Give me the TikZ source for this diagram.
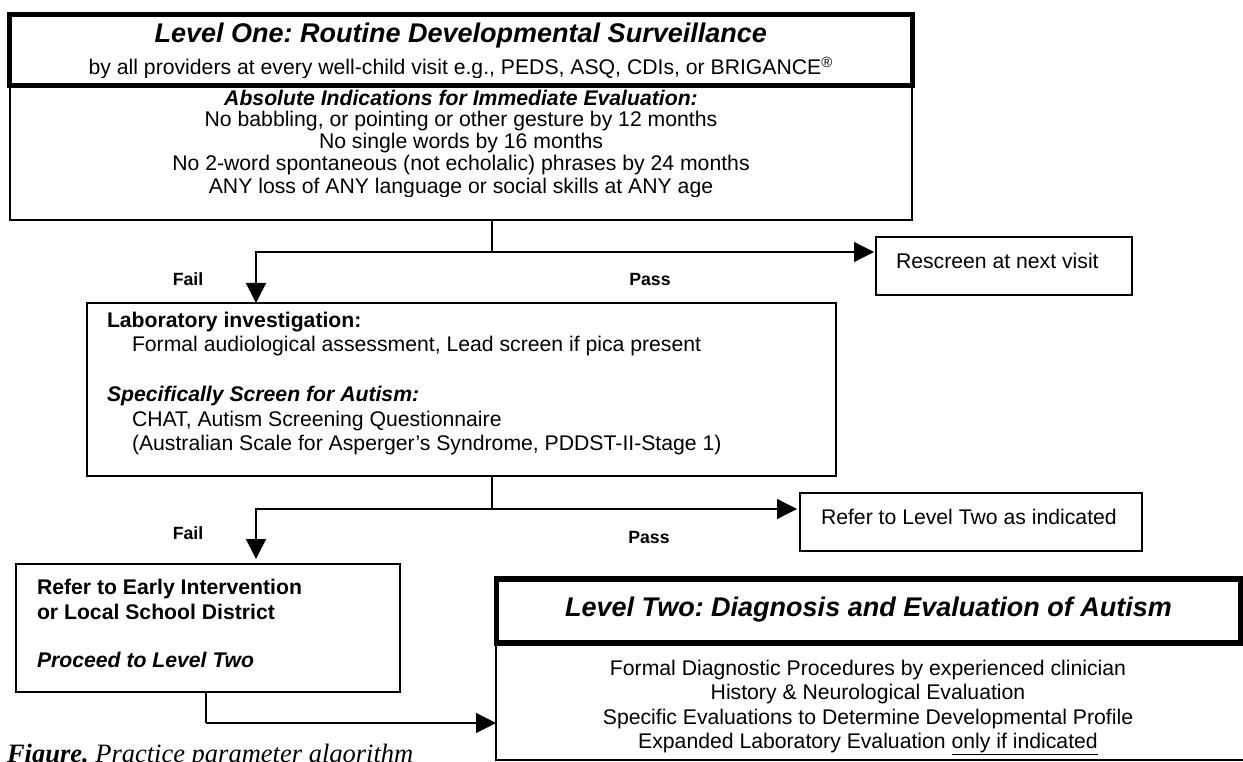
\documentclass[tikz,border=0pt]{standalone}
\usepackage{fontspec}
\setmainfont{Liberation Sans}
\newfontfamily\capfont{Liberation Serif}
\usetikzlibrary{arrows.meta}
\frenchspacing
\newcommand\fbody{\fontsize{21.2pt}{24.4pt}\selectfont}
\newcommand\ftitle{\fontsize{27pt}{31pt}\selectfont\bfseries\itshape}
\newcommand\flabel{\fontsize{17.7pt}{20pt}\selectfont\bfseries}
\begin{document}
\begin{tikzpicture}[x=1pt,y=-1pt,
  thinbox/.style={draw, line width=1.7pt, inner sep=0pt, outer sep=0pt, anchor=north west},
  thickbox/.style={draw, line width=5pt, inner sep=0pt, outer sep=0pt, anchor=north west},
  txt/.style={inner sep=0pt, outer sep=0pt, font=\fbody},
  conn/.style={line width=1.3pt},
  arr/.style={line width=1.3pt, -{Triangle[length=20pt,width=20pt]}},
  lbl/.style={inner sep=0pt, outer sep=0pt, anchor=base, font=\flabel}]
\useasboundingbox (0,0) rectangle (1243,762);

% ---------- Level One ----------
\node[thinbox, minimum width=902pt, minimum height=134.5pt] (l1low) at (10,85.5) {};
\node[thickbox, minimum width=902.5pt, minimum height=71pt] (l1head) at (9.5,14.5) {};
\node[txt, anchor=base, font=\ftitle] (t1) at (460.75,42.5) {Level One: Routine Developmental Surveillance};
\begin{scope}
  \clip (12,17) rectangle (908,77.5);
  \node[txt, anchor=base] (t1sub) at (460.75,74.6) {by all providers at every well-child visit e.g., PEDS, ASQ, CDIs, or BRIGANCE\textsuperscript{®}};
\end{scope}
\node[txt, anchor=base, font=\fbody\bfseries\itshape] (abs) at (461,105.6) {Absolute Indications for Immediate Evaluation:};
\node[txt, anchor=base] (i1) at (461,126.6) {No babbling, or pointing or other gesture by 12 months};
\node[txt, anchor=base] (i2) at (461,148.6) {No single words by 16 months};
\node[txt, anchor=base] (i3) at (461,170.6) {No 2-word spontaneous (not echolalic) phrases by 24 months};
\begin{scope}
  \clip (12,175) rectangle (908,196.8);
  \node[txt, anchor=base] (i4) at (461,193.6) {ANY loss of ANY language or social skills at ANY age};
\end{scope}

% ---------- Rescreen ----------
\node[thinbox, minimum width=256pt, minimum height=58pt] (resc) at (876,237) {};
\node[txt, anchor=base west] (resct) at (896,268.6) {Rescreen at next visit};

% ---------- Laboratory box ----------
\node[thinbox, minimum width=749pt, minimum height=173pt] (lab) at (87,303) {};
\node[txt, anchor=base west, font=\fbody\bfseries] (lab1) at (107,327.6) {Laboratory investigation:};
\node[txt, anchor=base west] (lab2) at (132,352) {Formal audiological assessment, Lead screen if pica present};
\node[txt, anchor=base west, font=\fbody\bfseries\itshape] (lab3) at (107,401.5) {Specifically Screen for Autism:};
\node[txt, anchor=base west] (lab4) at (132,426) {CHAT, Autism Screening Questionnaire};
\node[txt, anchor=base west] (lab5) at (132,450.5) {(Australian Scale for Asperger’s Syndrome, PDDST-II-Stage 1)};

% ---------- Refer to Level Two as indicated ----------
\node[thinbox, minimum width=342pt, minimum height=58pt] (refl2) at (800,493) {};
\node[txt, anchor=base west] (refl2t) at (821,524.6) {Refer to Level Two as indicated};

% ---------- Refer to Early Intervention ----------
\node[thinbox, minimum width=384pt, minimum height=128pt] (refei) at (16,564) {};
\node[txt, anchor=base west, font=\fbody\bfseries] (ei1) at (37,594.6) {Refer to Early Intervention};
\node[txt, anchor=base west, font=\fbody\bfseries] (ei2) at (37,619.6) {or Local School District};
\node[txt, anchor=base west, font=\fbody\bfseries\itshape] (ei3) at (37,667.6) {Proceed to Level Two};

% ---------- Level Two ----------
\node[thinbox, minimum width=750pt, minimum height=117pt] (l2low) at (496,643) {};
\node[thickbox, line width=5.5pt, minimum width=744pt, minimum height=64pt] (l2head) at (496.5,579) {};
\node[txt, anchor=base, font=\ftitle] (t2) at (868.5,616.5) {Level Two: Diagnosis and Evaluation of Autism};
\node[txt, anchor=base] (d1) at (868,675.6) {Formal Diagnostic Procedures by experienced clinician};
\node[txt, anchor=base] (d2) at (868,699.6) {History \& Neurological Evaluation};
\node[txt, anchor=base] (d3) at (868,724.6) {Specific Evaluations to Determine Developmental Profile};
\node[txt, anchor=base] (d4) at (868,748.6) {Expanded Laboratory Evaluation \underline{only if indicated}};

% ---------- connectors ----------
\coordinate (j1) at (492,252);
\coordinate (f1) at (256,252);
\draw[conn] (l1low.south -| j1) -- (j1);
\draw[arr] (j1) -- (f1) -- (f1 |- lab.north);
\draw[arr, shorten >=2pt] (j1) -- (j1 -| resc.west);

\coordinate (j2) at (492,509);
\coordinate (f2) at (256,509);
\draw[conn] (lab.south -| j2) -- (j2);
\draw[arr, shorten >=5pt] (j2) -- (f2) -- (f2 |- refei.north);
\draw[arr, shorten >=3pt] (j2) -- (j2 -| refl2.west);

\coordinate (j3) at (206,723);
\draw[conn] (refei.south -| j3) -- (j3);
\draw[arr] (j3) -- (j3 -| l2low.west);

% ---------- labels ----------
\node[lbl] (fail1) at (188,286) {Fail};
\node[lbl] (pass1) at (650,286) {Pass};
\node[lbl] (fail2) at (188,539) {Fail};
\node[lbl] (pass2) at (649,543) {Pass};

% ---------- caption ----------
\node[inner sep=0pt, outer sep=0pt, anchor=base west, font=\capfont\fontsize{26.5pt}{30pt}\selectfont] (cap) at (7,762) {\itshape{\bfseries Figure.} Practice parameter algorithm};
\end{tikzpicture}
\end{document}
